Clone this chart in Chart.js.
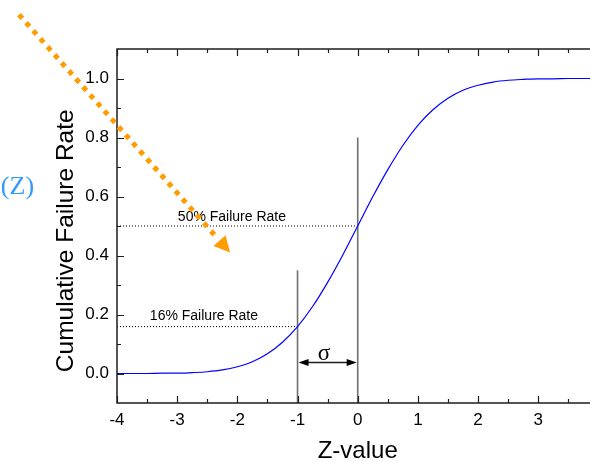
<!DOCTYPE html>
<html>
<head>
<meta charset="utf-8">
<title>Cumulative Failure Rate</title>
<script src="https://cdn.jsdelivr.net/npm/chart.js@4.4.1/dist/chart.umd.min.js"></script>
<style>
    html, body { margin: 0; padding: 0; background: #fff; }
    #chart { display: block; }
</style>
</head>
<body>
<canvas id="chart" width="590" height="462"></canvas>
<script>
// Normal cumulative curve
const zValues = [-4, -3.75, -3.5, -3.25, -3, -2.75, -2.5, -2.25, -2, -1.75, -1.5, -1.25, -1, -0.75, -0.5, -0.25,
    0, 0.25, 0.5, 0.75, 1, 1.25, 1.5, 1.75, 2, 2.25, 2.5, 2.75, 3, 3.25, 3.5, 3.75, 3.86];
const failureRate = [0.000, 0.000, 0.000, 0.001, 0.001, 0.003, 0.006, 0.012, 0.023, 0.040, 0.067, 0.106, 0.159, 0.227, 0.309, 0.401,
    0.500, 0.599, 0.691, 0.773, 0.841, 0.894, 0.933, 0.960, 0.977, 0.988, 0.994, 0.997, 0.999, 0.999, 1.000, 1.000, 1.000];

// Reference markers
const markerZ = [-1, 0];
const markerTop = [0.35, 0.8];
const levelValues = [0.159, 0.5];
const levelLabels = ['16% Failure Rate', '50% Failure Rate'];

// Axis ticks
const xTicks = [-4, -3, -2, -1, 0, 1, 2, 3];
const yTicks = [0, 0.2, 0.4, 0.6, 0.8, 1.0];

const X_MIN = -4, X_MAX = 3.86, Y_MIN = -0.1, Y_MAX = 1.1;

let datasets = [{
    data: zValues.map((z, i) => ({ x: z, y: failureRate[i] })),
    borderColor: '#0000ff',
    borderWidth: 1.2,
    pointRadius: 0,
    showLine: true,
    cubicInterpolationMode: 'monotone'
}];

markerZ.forEach((z, i) => {
    datasets.push({
        data: [{ x: z, y: Y_MIN }, { x: z, y: markerTop[i] }],
        borderColor: '#707070',
        borderWidth: 1.6,
        pointRadius: 0,
        showLine: true
    });
    datasets.push({
        data: [{ x: X_MIN, y: levelValues[i] }, { x: z, y: levelValues[i] }],
        borderColor: '#000',
        borderWidth: 1,
        borderDash: [1, 2],
        pointRadius: 0,
        showLine: true
    });
});

// text, sigma arrow and the orange pointer, placed in axis units
const notes = {
    labels: [{ x: -2.555, y: 0.182 }, { x: -2.09, y: 0.518 }],
    sigma: { x: -0.56, y: 0.046, arrowY: 0.039 },
    fz: { x: -5.93, y: 0.633 },
    pointer: { from: [-5.6, 1.21], to: [-2.12, 0.41] },
    xTitle: { x: 0, y: -0.265 },
    yTitle: { x: -4.85, y: 0.45 }
};

function arrowHead(ctx, tipX, tipY, ang, len, half) {
    ctx.beginPath();
    ctx.moveTo(tipX, tipY);
    ctx.lineTo(tipX - len * Math.cos(ang) + half * Math.sin(ang), tipY - len * Math.sin(ang) - half * Math.cos(ang));
    ctx.lineTo(tipX - len * Math.cos(ang) - half * Math.sin(ang), tipY - len * Math.sin(ang) + half * Math.cos(ang));
    ctx.closePath();
    ctx.fill();
}

const framePlugin = {
    id: 'frame',
    afterDraw(chart) {
        const { ctx, chartArea: a, scales: { x, y } } = chart;
        ctx.save();
        ctx.strokeStyle = '#1e1e1e';
        ctx.lineWidth = 1.5;
        ctx.beginPath();
        ctx.moveTo(a.right, a.top);
        ctx.lineTo(a.left, a.top);
        ctx.lineTo(a.left, a.bottom);
        ctx.lineTo(a.right, a.bottom);
        ctx.stroke();

        // inward tick marks, minor ones halfway between majors
        ctx.lineWidth = 1.2;
        ctx.beginPath();
        const xMinor = xTicks.map(v => v + 0.5).filter(v => v < X_MAX);
        const yMinor = yTicks.map(v => v + 0.1).filter(v => v < Y_MAX);
        [[xTicks, 7], [xMinor, 4]].forEach(([vals, len]) => {
            vals.forEach(v => {
                const px = Math.round(x.getPixelForValue(v)) + 0.5;
                ctx.moveTo(px, a.bottom); ctx.lineTo(px, a.bottom - len);
                ctx.moveTo(px, a.top); ctx.lineTo(px, a.top + len);
            });
        });
        [[yTicks, 7], [yMinor, 4]].forEach(([vals, len]) => {
            vals.forEach(v => {
                const py = Math.round(y.getPixelForValue(v)) + 0.5;
                ctx.moveTo(a.left, py); ctx.lineTo(a.left + len, py);
            });
        });
        ctx.stroke();

        // axis titles
        ctx.fillStyle = '#000';
        ctx.textAlign = 'center';
        ctx.textBaseline = 'middle';
        ctx.font = '24px "Liberation Sans", Arial, sans-serif';
        ctx.fillText('Z-value', x.getPixelForValue(notes.xTitle.x), y.getPixelForValue(notes.xTitle.y));
        ctx.save();
        ctx.translate(x.getPixelForValue(notes.yTitle.x), y.getPixelForValue(notes.yTitle.y));
        ctx.rotate(-Math.PI / 2);
        ctx.font = '24.5px "Liberation Sans", Arial, sans-serif';
        ctx.fillText('Cumulative Failure Rate', 0, 0);
        ctx.restore();

        // failure rate labels
        ctx.font = '14px "Liberation Sans", Arial, sans-serif';
        ctx.textBaseline = 'alphabetic';
        levelLabels.forEach((t, i) => {
            ctx.fillText(t, x.getPixelForValue(notes.labels[i].x), y.getPixelForValue(notes.labels[i].y));
        });

        // sigma span between the two markers
        ctx.font = '23px "Liberation Serif", "Times New Roman", serif';
        ctx.fillText('σ', x.getPixelForValue(notes.sigma.x), y.getPixelForValue(notes.sigma.y));
        const ay = Math.round(y.getPixelForValue(notes.sigma.arrowY)) + 0.5;
        const x0 = x.getPixelForValue(markerZ[0]) + 1, x1 = x.getPixelForValue(markerZ[1]) - 1;
        ctx.lineWidth = 1.3;
        ctx.beginPath();
        ctx.moveTo(x0 + 6, ay); ctx.lineTo(x1 - 6, ay);
        ctx.stroke();
        arrowHead(ctx, x0, ay, Math.PI, 10, 3.5);
        arrowHead(ctx, x1, ay, 0, 10, 3.5);

        // F(Z) label, clipped by the left edge
        ctx.fillStyle = '#3399ff';
        ctx.font = '26px "Liberation Serif", "Times New Roman", serif';
        ctx.textAlign = 'left';
        ctx.textBaseline = 'middle';
        ctx.fillText('(Z)', x.getPixelForValue(notes.fz.x), y.getPixelForValue(notes.fz.y));

        // orange dotted pointer
        const p0 = [x.getPixelForValue(notes.pointer.from[0]), y.getPixelForValue(notes.pointer.from[1])];
        const p1 = [x.getPixelForValue(notes.pointer.to[0]), y.getPixelForValue(notes.pointer.to[1])];
        const ang = Math.atan2(p1[1] - p0[1], p1[0] - p0[0]);
        const headLen = 16;
        ctx.strokeStyle = '#ff9c00';
        ctx.fillStyle = '#ff9c00';
        ctx.lineWidth = 5;
        ctx.lineCap = 'square';
        ctx.setLineDash([0.01, 10.7]);
        ctx.beginPath();
        ctx.moveTo(p0[0], p0[1]);
        ctx.lineTo(p1[0] - (headLen + 3) * Math.cos(ang), p1[1] - (headLen + 3) * Math.sin(ang));
        ctx.stroke();
        ctx.setLineDash([]);
        arrowHead(ctx, p1[0], p1[1], ang, headLen, 8);
        ctx.restore();
    }
};

const tickFont = { family: '"Liberation Sans", Arial, sans-serif', size: 17 };

new Chart(document.getElementById('chart'), {
    type: 'scatter',
    data: { datasets: datasets },
    options: {
        responsive: false,
        animation: false,
        layout: { padding: { top: 49, right: 0, bottom: 0, left: 0 } },
        plugins: { legend: { display: false }, tooltip: { enabled: false } },
        scales: {
            x: {
                type: 'linear',
                min: X_MIN,
                max: X_MAX,
                afterBuildTicks: s => { s.ticks = xTicks.map(v => ({ value: v })); },
                afterFit: s => { s.height = 59; },
                grid: { display: false, drawTicks: false },
                border: { display: false },
                ticks: { font: tickFont, color: '#000', padding: 7, maxRotation: 0, callback: v => String(v) }
            },
            y: {
                type: 'linear',
                min: Y_MIN,
                max: Y_MAX,
                afterBuildTicks: s => { s.ticks = yTicks.map(v => ({ value: v })); },
                afterFit: s => { s.width = 117; },
                grid: { display: false, drawTicks: false },
                border: { display: false },
                ticks: { font: tickFont, color: '#000', padding: 8, callback: v => v.toFixed(1) }
            }
        }
    },
    plugins: [framePlugin]
});
</script>
</body>
</html>
